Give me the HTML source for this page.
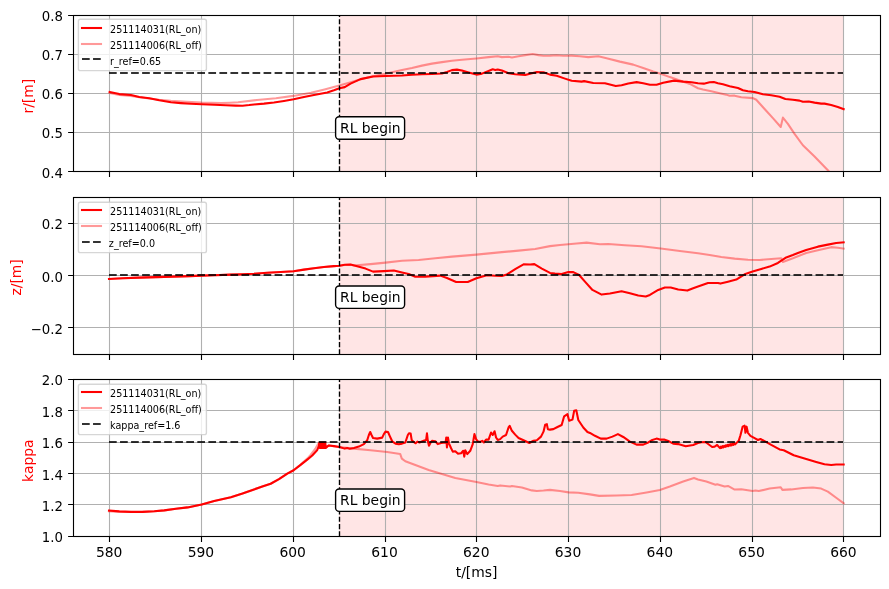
<!DOCTYPE html>
<html lang="en"><head><meta charset="utf-8"><title>RL on/off comparison</title>
<style>html,body{margin:0;padding:0;background:#fff;overflow:hidden}svg{display:block;will-change:transform}</style></head>
<body>
<svg width="889" height="589" viewBox="0 0 889 589" font-family="&apos;DejaVu Sans&apos;, &apos;Liberation Sans&apos;, sans-serif">
<rect x="0" y="0" width="889" height="589" fill="#ffffff"/>
<defs>
<clipPath id="c0"><rect x="73.5" y="15.5" width="807.0" height="156.0"/></clipPath>
<clipPath id="c1"><rect x="73.5" y="197.5" width="807.0" height="157.0"/></clipPath>
<clipPath id="c2"><rect x="73.5" y="379.5" width="807.0" height="157.0"/></clipPath>
</defs>
<g id="ax0">
<rect x="339" y="15.5" width="504" height="156.0" fill="#ff0000" fill-opacity="0.1"/>
<path d="M109.5 15.5V171.5M201.5 15.5V171.5M293.5 15.5V171.5M385.5 15.5V171.5M476.5 15.5V171.5M568.5 15.5V171.5M660.5 15.5V171.5M752.5 15.5V171.5M843.5 15.5V171.5M73.5 132.5H880.5M73.5 93.5H880.5M73.5 54.5H880.5" stroke="#b0b0b0" stroke-width="1.11" fill="none"/>
<g clip-path="url(#c0)" fill="none" stroke-linejoin="round">
<path d="M109.66 91.94 L119.32 94.11 L130.97 94.94 L139.30 96.94 L149.28 98.27 L159.27 100.27 L170.93 102.26 L180.92 103.10 L190.90 103.76 L201.73 104.26 L214.21 104.76 L225.87 105.26 L235.85 105.59 L242.51 105.76 L249.17 105.09 L254.00 104.43 L263.99 103.60 L273.98 102.43 L283.97 100.93 L293.62 99.27 L303.94 97.10 L313.93 95.10 L327.25 92.44 L333.91 90.28 L339.40 88.28 L344.73 87.11 L350.56 83.62 L360.55 79.12 L373.03 76.46 L385.52 75.96 L402.00 75.46 L411.99 74.78 L421.98 74.28 L431.97 73.95 L441.96 73.45 L446.95 71.95 L451.94 70.12 L456.94 69.62 L461.93 70.45 L468.59 72.45 L476.42 74.62 L481.91 73.62 L488.57 70.95 L492.73 69.29 L495.23 69.96 L497.73 69.46 L501.89 70.45 L508.55 73.28 L515.21 74.28 L525.19 74.95 L531.85 73.28 L536.85 72.12 L543.51 72.29 L550.00 74.62 L556.66 75.78 L564.98 78.61 L571.64 80.78 L581.63 81.61 L584.13 81.11 L593.28 82.94 L604.94 83.27 L615.76 85.94 L621.59 85.27 L628.25 83.44 L636.57 82.11 L643.23 83.27 L649.89 84.77 L656.55 84.77 L663.21 82.77 L674.03 80.61 L683.18 81.61 L691.51 82.27 L698.00 83.27 L703.83 83.66 L709.65 82.32 L713.82 81.99 L717.98 83.16 L722.97 84.32 L729.63 86.15 L737.96 87.98 L742.95 90.31 L747.94 91.31 L754.60 91.98 L762.93 94.31 L771.25 95.31 L779.57 96.81 L785.40 98.97 L792.89 99.80 L799.55 100.64 L802.88 101.80 L808.71 101.47 L814.54 102.63 L821.19 103.63 L824.52 103.63 L831.18 104.97 L837.84 106.96 L843.67 109.13" stroke="#ff0000" stroke-width="2.08" stroke-linecap="square"/>
<path d="M109.66 92.94 L119.32 94.94 L130.97 95.94 L139.30 97.27 L149.28 98.43 L159.27 99.77 L170.80 100.80 L187.00 101.80 L201.40 102.60 L221.20 103.10 L230.00 102.70 L238.10 102.30 L257.00 100.00 L275.90 98.20 L293.40 95.90 L311.00 92.80 L324.50 89.40 L339.30 85.40 L350.00 82.40 L360.55 79.29 L373.03 76.29 L385.52 73.80 L402.00 69.97 L411.99 67.96 L421.98 65.63 L431.97 63.63 L441.96 62.13 L451.94 60.80 L461.93 59.80 L476.42 58.47 L488.57 57.14 L497.73 56.30 L501.89 57.14 L508.55 56.80 L511.88 57.47 L518.54 56.30 L525.19 55.14 L532.69 53.97 L538.51 55.14 L543.51 55.80 L550.00 55.64 L556.66 55.30 L563.32 55.80 L571.64 55.64 L579.97 56.30 L588.29 57.14 L598.28 56.30 L606.60 58.30 L619.92 61.63 L633.24 64.63 L643.23 67.96 L653.22 71.45 L660.71 73.78 L669.87 77.11 L679.85 80.44 L689.84 83.94 L698.00 88.27 L702.99 89.48 L711.32 91.15 L719.64 93.15 L726.30 94.64 L729.63 95.81 L734.63 95.64 L741.28 97.31 L752.94 98.14 L756.27 99.80 L764.59 108.96 L772.92 118.12 L780.74 126.94 L782.90 117.62 L787.90 123.94 L794.56 133.93 L802.88 145.25 L814.54 156.41 L827.85 170.22 L831.18 173.89" stroke="#ff0000" stroke-opacity="0.4" stroke-width="2.08" stroke-linecap="square"/>
<path d="M109 73H843" stroke="#000000" stroke-opacity="0.8" stroke-width="2.08" stroke-dasharray="7.71 3.33"/>
<path d="M339.5 171.5V15.5" stroke="#000000" stroke-width="1.39" stroke-dasharray="5.14 2.22"/>
</g>
<rect x="73.5" y="15.5" width="807.0" height="156.0" fill="none" stroke="#000" stroke-width="1.11"/>
<path d="M109.5 171.5v5.4M201.5 171.5v5.4M293.5 171.5v5.4M385.5 171.5v5.4M476.5 171.5v5.4M568.5 171.5v5.4M660.5 171.5v5.4M752.5 171.5v5.4M843.5 171.5v5.4M73.5 171.5h-5.4M73.5 132.5h-5.4M73.5 93.5h-5.4M73.5 54.5h-5.4M73.5 15.5h-5.4" stroke="#000" stroke-width="1.11" fill="none"/>
<text x="62.9" y="177.95" font-size="13.3" text-anchor="end" fill="#000">0.4</text>
<text x="62.9" y="138.22" font-size="13.3" text-anchor="end" fill="#000">0.5</text>
<text x="62.9" y="99.10" font-size="13.3" text-anchor="end" fill="#000">0.6</text>
<text x="62.9" y="59.98" font-size="13.3" text-anchor="end" fill="#000">0.7</text>
<text x="62.9" y="20.95" font-size="13.3" text-anchor="end" fill="#000">0.8</text>
<text transform="translate(33.1 96.20) rotate(-90)" font-size="13.89" text-anchor="middle" fill="#ff0000">r/[m]</text>
<rect x="78.40" y="19.30" width="128.0" height="51.30" rx="1.94" ry="1.94" fill="#ffffff" fill-opacity="0.8" stroke="#cccccc" stroke-opacity="0.8" stroke-width="1.39"/>
<path d="M82 28H101" stroke="#ff0000" stroke-width="2.08" stroke-linecap="square"/>
<path d="M82 44H101" stroke="#ff0000" stroke-opacity="0.4" stroke-width="2.08" stroke-linecap="square"/>
<path d="M82 59H101" stroke="#000" stroke-opacity="0.8" stroke-width="2.08" stroke-dasharray="7.71 3.33"/>
<text x="110.05" y="32.90" font-size="9.6" fill="#000">251114031(RL_on)</text>
<text x="110.05" y="48.60" font-size="9.6" fill="#000">251114006(RL_off)</text>
<text x="110.05" y="64.70" font-size="9.6" fill="#000">r_ref=0.65</text>
<rect x="335.6" y="116.80" width="69.0" height="22.4" rx="3.5" ry="3.5" fill="#fff" stroke="#000" stroke-width="1.39"/>
<text x="340.00" y="132.90" font-size="13.89" fill="#000">RL begin</text>
</g>
<g id="ax1">
<rect x="339" y="197.5" width="504" height="157.0" fill="#ff0000" fill-opacity="0.1"/>
<path d="M109.5 197.5V354.5M201.5 197.5V354.5M293.5 197.5V354.5M385.5 197.5V354.5M476.5 197.5V354.5M568.5 197.5V354.5M660.5 197.5V354.5M752.5 197.5V354.5M843.5 197.5V354.5M73.5 327.5H880.5M73.5 275.5H880.5M73.5 223.5H880.5" stroke="#b0b0b0" stroke-width="1.11" fill="none"/>
<g clip-path="url(#c1)" fill="none" stroke-linejoin="round">
<path d="M109.00 278.94 L122.65 278.27 L139.30 277.61 L155.94 277.11 L172.59 276.61 L189.24 276.11 L201.73 275.61 L214.21 275.28 L230.86 274.61 L242.51 274.28 L254.00 273.78 L267.32 272.78 L280.64 271.95 L293.62 271.28 L303.94 269.62 L313.93 268.28 L323.92 266.95 L333.91 266.12 L339.40 265.79 L344.73 264.79 L350.56 264.46 L357.22 266.29 L365.54 268.62 L373.03 271.61 L383.85 271.11 L393.84 270.45 L402.00 272.45 L408.66 273.94 L415.32 276.78 L425.31 276.61 L440.29 275.61 L446.95 277.94 L456.11 281.94 L467.76 281.94 L476.42 278.27 L486.90 275.28 L495.23 275.78 L501.89 275.94 L506.88 274.44 L515.21 269.12 L523.53 264.29 L530.19 264.46 L534.35 264.12 L541.84 268.62 L550.00 272.95 L554.99 273.61 L561.65 274.11 L568.31 272.11 L573.31 272.11 L579.13 274.94 L584.96 281.60 L592.45 289.93 L601.61 294.59 L609.93 293.59 L621.59 291.26 L629.91 293.26 L638.23 295.59 L645.73 296.42 L649.89 294.92 L658.21 289.93 L664.87 287.43 L670.70 287.43 L678.19 289.43 L687.35 290.59 L693.17 288.26 L698.00 286.60 L707.99 282.93 L717.98 282.93 L720.47 283.60 L727.97 281.77 L736.29 279.61 L744.61 274.28 L752.61 271.61 L761.26 268.95 L769.59 266.62 L777.91 262.96 L786.23 257.46 L792.89 254.97 L797.89 252.97 L806.21 249.97 L817.87 246.64 L827.85 244.64 L836.18 242.98 L843.67 242.31" stroke="#ff0000" stroke-width="2.08" stroke-linecap="square"/>
<path d="M109.00 278.94 L122.65 278.27 L139.30 277.61 L155.94 277.11 L172.59 276.61 L189.24 276.11 L201.73 275.61 L214.21 275.28 L230.86 274.61 L242.51 274.28 L254.00 273.78 L267.32 272.78 L280.64 271.95 L293.62 271.28 L303.94 269.62 L313.93 268.28 L323.92 266.95 L333.91 266.12 L339.40 265.79 L344.73 264.96 L350.56 264.79 L353.89 265.45 L370.54 264.12 L385.52 262.62 L402.00 260.79 L418.65 259.96 L435.30 258.30 L451.94 256.63 L476.42 254.63 L501.89 252.14 L518.54 250.64 L535.18 248.97 L550.00 246.14 L559.99 244.98 L568.31 244.31 L576.64 243.48 L586.63 242.65 L599.94 244.31 L608.27 243.98 L624.92 245.31 L641.56 246.31 L660.71 248.47 L679.85 250.97 L698.00 253.30 L709.65 254.97 L721.31 256.96 L734.63 258.63 L747.94 259.79 L759.60 259.96 L771.25 258.96 L781.24 258.30 L782.90 261.96 L792.89 258.30 L806.21 252.97 L817.87 250.30 L831.18 247.14 L837.84 247.81 L843.67 248.64" stroke="#ff0000" stroke-opacity="0.4" stroke-width="2.08" stroke-linecap="square"/>
<path d="M109 275H843" stroke="#000000" stroke-opacity="0.8" stroke-width="2.08" stroke-dasharray="7.71 3.33"/>
<path d="M339.5 354.5V197.5" stroke="#000000" stroke-width="1.39" stroke-dasharray="5.14 2.22"/>
</g>
<rect x="73.5" y="197.5" width="807.0" height="157.0" fill="none" stroke="#000" stroke-width="1.11"/>
<path d="M109.5 354.5v5.4M201.5 354.5v5.4M293.5 354.5v5.4M385.5 354.5v5.4M476.5 354.5v5.4M568.5 354.5v5.4M660.5 354.5v5.4M752.5 354.5v5.4M843.5 354.5v5.4M73.5 327.5h-5.4M73.5 275.5h-5.4M73.5 223.5h-5.4" stroke="#000" stroke-width="1.11" fill="none"/>
<text x="62.9" y="334.02" font-size="13.3" text-anchor="end" fill="#000">−0.2</text>
<text x="62.9" y="282.05" font-size="13.3" text-anchor="end" fill="#000">0.0</text>
<text x="62.9" y="229.18" font-size="13.3" text-anchor="end" fill="#000">0.2</text>
<text transform="translate(21.2 277.40) rotate(-90)" font-size="13.89" text-anchor="middle" fill="#ff0000">z/[m]</text>
<rect x="78.40" y="202.30" width="128.0" height="50.30" rx="1.94" ry="1.94" fill="#ffffff" fill-opacity="0.8" stroke="#cccccc" stroke-opacity="0.8" stroke-width="1.39"/>
<path d="M82 210H101" stroke="#ff0000" stroke-width="2.08" stroke-linecap="square"/>
<path d="M82 226H101" stroke="#ff0000" stroke-opacity="0.4" stroke-width="2.08" stroke-linecap="square"/>
<path d="M82 242H101" stroke="#000" stroke-opacity="0.8" stroke-width="2.08" stroke-dasharray="7.71 3.33"/>
<text x="110.05" y="214.90" font-size="9.6" fill="#000">251114031(RL_on)</text>
<text x="110.05" y="230.60" font-size="9.6" fill="#000">251114006(RL_off)</text>
<text x="108.85" y="246.70" font-size="9.6" fill="#000">z_ref=0.0</text>
<rect x="335.6" y="285.95" width="69.0" height="22.4" rx="3.5" ry="3.5" fill="#fff" stroke="#000" stroke-width="1.39"/>
<text x="340.00" y="302.05" font-size="13.89" fill="#000">RL begin</text>
</g>
<g id="ax2">
<rect x="339" y="379.5" width="504" height="157.0" fill="#ff0000" fill-opacity="0.1"/>
<path d="M109.5 379.5V536.5M201.5 379.5V536.5M293.5 379.5V536.5M385.5 379.5V536.5M476.5 379.5V536.5M568.5 379.5V536.5M660.5 379.5V536.5M752.5 379.5V536.5M843.5 379.5V536.5M73.5 504.5H880.5M73.5 473.5H880.5M73.5 442.5H880.5M73.5 410.5H880.5" stroke="#b0b0b0" stroke-width="1.11" fill="none"/>
<g clip-path="url(#c2)" fill="none" stroke-linejoin="round">
<path d="M109.00 510.57 L119.32 511.40 L130.97 511.90 L142.63 511.90 L154.28 511.23 L164.27 510.40 L175.92 508.74 L187.57 507.40 L201.73 504.41 L214.21 501.08 L230.86 497.25 L242.51 493.59 L254.00 489.42 L262.32 486.57 L270.65 483.74 L278.97 479.08 L287.30 473.59 L293.62 470.26 L300.61 464.93 L307.27 459.61 L312.27 455.44 L317.26 449.95 L318.93 445.79 L319.26 442.62 L319.76 447.95 L320.26 442.62 L320.76 447.95 L321.26 442.62 L321.76 447.95 L322.26 442.62 L322.76 447.95 L323.26 442.62 L323.75 447.95 L324.25 442.62 L324.75 447.95 L325.25 442.62 L325.75 447.95 L327.25 446.62 L328.92 445.45 L333.91 446.12 L339.40 446.95 L344.73 448.62 L347.23 447.95 L349.73 448.78 L353.89 447.95 L358.88 446.62 L363.88 444.12 L367.21 440.29 L368.87 434.97 L370.20 431.97 L371.53 434.97 L373.03 437.96 L377.19 438.63 L382.19 437.63 L383.85 434.13 L385.52 431.64 L388.02 431.97 L389.68 435.80 L392.18 441.29 L395.51 443.62 L398.84 444.29 L402.00 443.62 L405.33 442.46 L407.83 434.97 L408.99 433.30 L410.66 433.63 L411.66 439.96 L413.65 441.96 L415.65 443.29 L417.32 441.63 L419.48 442.46 L423.64 440.79 L426.14 439.96 L426.97 433.30 L427.80 440.79 L428.97 445.79 L430.63 442.46 L431.97 440.79 L435.30 441.29 L437.79 444.12 L441.12 442.96 L445.62 442.46 L446.28 437.46 L446.95 447.45 L447.95 437.46 L448.95 443.29 L451.11 448.28 L452.78 451.61 L455.27 451.28 L457.77 453.61 L461.10 453.28 L463.26 450.78 L464.26 456.61 L465.26 450.28 L467.26 454.11 L470.26 450.78 L472.75 444.12 L474.42 434.13 L476.08 439.13 L477.75 441.29 L480.25 441.96 L482.24 440.79 L483.91 442.46 L486.07 439.63 L488.57 439.63 L491.07 432.47 L492.73 434.97 L494.56 431.30 L496.06 437.46 L497.73 439.96 L500.22 439.13 L502.72 436.63 L506.05 434.97 L508.55 427.47 L509.71 425.81 L511.88 430.80 L515.21 434.63 L518.54 437.96 L523.53 440.29 L529.36 442.96 L533.52 440.79 L536.85 440.29 L541.01 436.63 L543.51 431.64 L545.17 424.64 L546.84 424.15 L547.84 429.14 L550.00 429.64 L553.33 429.13 L557.49 426.97 L561.65 424.97 L564.15 416.31 L567.48 414.15 L569.15 420.81 L572.47 419.64 L574.14 410.82 L576.30 410.32 L578.30 419.98 L583.30 427.47 L587.46 431.96 L589.96 432.96 L594.95 435.79 L600.78 438.62 L606.60 438.62 L612.43 436.63 L617.92 434.13 L623.25 436.96 L629.91 441.62 L636.57 444.62 L643.23 444.62 L648.22 442.45 L651.55 440.29 L656.55 438.62 L659.88 439.62 L664.04 439.46 L669.03 441.29 L673.19 443.62 L678.19 444.12 L685.68 446.28 L693.17 444.95 L698.00 442.95 L701.33 442.30 L705.49 441.97 L708.82 444.46 L712.15 446.96 L714.65 446.63 L717.15 444.96 L719.98 448.13 L720.81 446.63 L721.64 447.79 L722.47 446.13 L723.30 447.29 L724.14 445.80 L724.97 446.96 L725.80 445.30 L726.63 446.46 L727.47 444.96 L728.30 446.13 L729.13 444.46 L729.96 445.63 L730.80 444.13 L731.63 445.30 L732.46 443.63 L733.29 444.80 L734.13 443.30 L734.96 444.46 L738.79 440.63 L740.45 435.31 L742.62 426.65 L744.61 425.65 L745.45 432.81 L746.61 426.65 L747.94 432.81 L750.44 435.81 L754.60 438.14 L757.93 439.97 L760.43 438.97 L764.59 441.13 L771.25 444.96 L779.57 449.46 L783.74 450.29 L788.73 452.79 L793.73 455.28 L799.55 456.95 L807.88 459.45 L816.20 461.94 L824.52 464.27 L831.18 464.94 L836.18 464.44 L843.67 464.44" stroke="#ff0000" stroke-width="2.08" stroke-linecap="square"/>
<path d="M109.00 511.23 L119.32 511.90 L130.97 512.07 L142.63 511.90 L154.28 511.23 L164.27 510.40 L175.92 508.74 L187.57 507.40 L201.73 504.41 L214.21 501.08 L230.86 497.25 L242.51 493.59 L254.00 489.42 L262.32 486.57 L270.65 483.74 L278.97 479.08 L287.30 473.59 L293.62 470.26 L300.61 464.60 L307.27 458.61 L310.60 454.94 L315.60 448.28 L318.09 444.12 L320.59 444.96 L327.25 446.29 L328.92 445.45 L339.40 446.95 L353.89 448.62 L370.54 450.28 L387.18 451.95 L400.17 453.94 L401.83 458.61 L405.33 461.27 L411.99 463.77 L419.98 466.76 L428.64 469.93 L441.96 474.09 L455.27 477.92 L476.42 482.08 L488.57 484.58 L497.73 486.08 L500.22 485.41 L510.21 486.57 L511.88 486.08 L521.87 487.41 L531.85 490.40 L536.85 491.07 L543.51 490.57 L550.00 489.90 L559.99 491.06 L568.65 492.40 L578.30 492.73 L589.96 494.39 L599.11 495.89 L616.59 495.56 L631.57 495.06 L646.56 492.40 L659.88 489.90 L669.87 486.57 L683.18 481.57 L694.00 477.91 L698.00 479.41 L706.32 481.59 L715.48 484.75 L717.15 484.25 L724.64 486.58 L727.97 485.92 L734.63 489.58 L741.28 489.25 L752.61 490.91 L755.44 490.58 L758.76 491.08 L769.59 488.58 L780.74 487.25 L782.40 489.91 L791.23 489.41 L802.88 488.08 L812.87 487.42 L821.19 488.58 L827.85 491.58 L836.18 497.74 L843.67 503.23" stroke="#ff0000" stroke-opacity="0.4" stroke-width="2.08" stroke-linecap="square"/>
<path d="M109 442H843" stroke="#000000" stroke-opacity="0.8" stroke-width="2.08" stroke-dasharray="7.71 3.33"/>
<path d="M339.5 536.5V379.5" stroke="#000000" stroke-width="1.39" stroke-dasharray="5.14 2.22"/>
</g>
<rect x="73.5" y="379.5" width="807.0" height="157.0" fill="none" stroke="#000" stroke-width="1.11"/>
<path d="M109.5 536.5v5.4M201.5 536.5v5.4M293.5 536.5v5.4M385.5 536.5v5.4M476.5 536.5v5.4M568.5 536.5v5.4M660.5 536.5v5.4M752.5 536.5v5.4M843.5 536.5v5.4M73.5 536.5h-5.4M73.5 504.5h-5.4M73.5 473.5h-5.4M73.5 442.5h-5.4M73.5 410.5h-5.4M73.5 379.5h-5.4" stroke="#000" stroke-width="1.11" fill="none"/>
<text x="62.9" y="542.15" font-size="13.3" text-anchor="end" fill="#000">1.0</text>
<text x="62.9" y="510.95" font-size="13.3" text-anchor="end" fill="#000">1.2</text>
<text x="62.9" y="479.55" font-size="13.3" text-anchor="end" fill="#000">1.4</text>
<text x="62.9" y="447.95" font-size="13.3" text-anchor="end" fill="#000">1.6</text>
<text x="62.9" y="416.65" font-size="13.3" text-anchor="end" fill="#000">1.8</text>
<text x="62.9" y="385.35" font-size="13.3" text-anchor="end" fill="#000">2.0</text>
<text transform="translate(33.1 460.70) rotate(-90)" font-size="13.89" text-anchor="middle" fill="#ff0000">kappa</text>
<rect x="78.40" y="384.30" width="128.0" height="50.30" rx="1.94" ry="1.94" fill="#ffffff" fill-opacity="0.8" stroke="#cccccc" stroke-opacity="0.8" stroke-width="1.39"/>
<path d="M82 392H101" stroke="#ff0000" stroke-width="2.08" stroke-linecap="square"/>
<path d="M82 408H101" stroke="#ff0000" stroke-opacity="0.4" stroke-width="2.08" stroke-linecap="square"/>
<path d="M82 424H101" stroke="#000" stroke-opacity="0.8" stroke-width="2.08" stroke-dasharray="7.71 3.33"/>
<text x="110.05" y="396.90" font-size="9.6" fill="#000">251114031(RL_on)</text>
<text x="110.05" y="412.60" font-size="9.6" fill="#000">251114006(RL_off)</text>
<text x="110.05" y="428.70" font-size="9.6" fill="#000">kappa_ref=1.6</text>
<rect x="335.6" y="489.00" width="69.0" height="22.4" rx="3.5" ry="3.5" fill="#fff" stroke="#000" stroke-width="1.39"/>
<text x="340.00" y="505.10" font-size="13.89" fill="#000">RL begin</text>
</g>
<text x="109.15" y="557.0" font-size="13.89" text-anchor="middle" fill="#000">580</text>
<text x="200.93" y="557.0" font-size="13.89" text-anchor="middle" fill="#000">590</text>
<text x="292.71" y="557.0" font-size="13.89" text-anchor="middle" fill="#000">600</text>
<text x="384.49" y="557.0" font-size="13.89" text-anchor="middle" fill="#000">610</text>
<text x="476.27" y="557.0" font-size="13.89" text-anchor="middle" fill="#000">620</text>
<text x="568.05" y="557.0" font-size="13.89" text-anchor="middle" fill="#000">630</text>
<text x="659.83" y="557.0" font-size="13.89" text-anchor="middle" fill="#000">640</text>
<text x="751.61" y="557.0" font-size="13.89" text-anchor="middle" fill="#000">650</text>
<text x="843.39" y="557.0" font-size="13.89" text-anchor="middle" fill="#000">660</text>
<text x="476.6" y="577.2" font-size="13.89" text-anchor="middle" fill="#000">t/[ms]</text>
</svg>
</body></html>
